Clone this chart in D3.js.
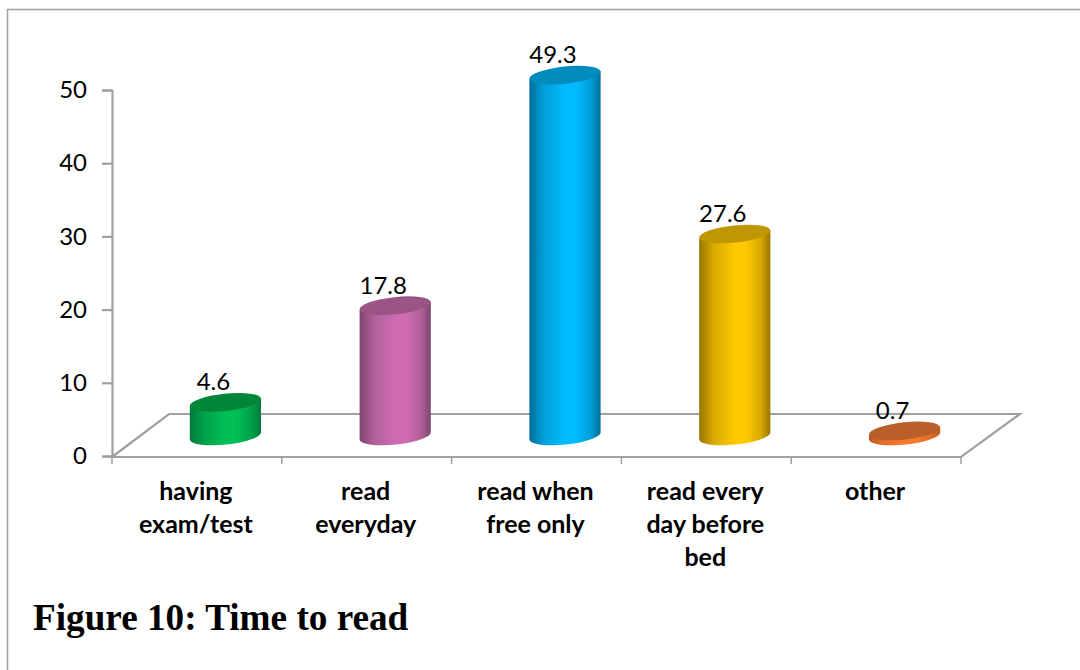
<!DOCTYPE html>
<html>
<head>
<meta charset="utf-8">
<script src="https://cdn.jsdelivr.net/npm/d3@7"></script>
<style>
  html, body { margin: 0; padding: 0; background: #fff; }
  svg { display: block; }
</style>
</head>
<body>
<svg id="chart" width="1080" height="670"></svg>
<script>
const categories = ["having exam/test", "read everyday", "read when free only", "read every day before bed", "other"];
const categoryLines = [["having", "exam/test"], ["read", "everyday"], ["read when", "free only"], ["read every", "day before", "bed"], ["other"]];
const values = [4.6, 17.8, 49.3, 27.6, 0.7];
const yTicks = [0, 10, 20, 30, 40, 50];
const titleText = "Figure 10: Time to read";

// Cylinder shades: [edge, shoulder, highlight, top cap]
const shades = [
  ["#007a3a", "#00a04c", "#00bf55", "#008539"],
  ["#80456f", "#b0609a", "#cf6bb1", "#9a5586"],
  ["#006e99", "#009fd9", "#00bbff", "#008cbd"],
  ["#967600", "#d9aa00", "#ffc800", "#bf9700"],
  ["#b85a20", "#e46c28", "#f8792d", "#b9602a"]
];

const svg = d3.select("#chart");
const axisColor = "#a0a0a0";
const labelFont = "Lato, 'Open Sans', sans-serif";

const x = d3.scaleBand().domain(categories).range([112, 961]);
const y = d3.scaleLinear().domain([0, 50]).range([456, 90]);

// Offset of the floor's back edge and of the cylinder axis, for the oblique view
const backDx = 57, backDy = -43;
const barDx = 28.5, barDy = -20;
const rx = 35.8, ry = 8.6, tilt = -6;
const endX = 35.6, endY = 3.8;

// Outer frame
svg.append("path")
  .attr("d", "M7.5,670V9.5H1080")
  .attr("fill", "none").attr("stroke", "#a0a0a0").attr("stroke-width", 1.5);

// Floor of the plot
const x0 = x.range()[0], x1 = x.range()[1], yBase = y(0) + 1;
svg.append("path")
  .attr("d", `M${x0},${yBase}L${x0 + backDx},${yBase + backDy}H${x1 + backDx + 2}L${x1},${yBase}Z`)
  .attr("fill", "none").attr("stroke", axisColor).attr("stroke-width", 2.2);

// Value axis
const yAxis = svg.append("g")
  .attr("transform", `translate(${x0},0)`)
  .call(d3.axisLeft(y).tickValues(yTicks).tickSize(10).tickPadding(15));
yAxis.selectAll("path, line").attr("stroke", axisColor).attr("stroke-width", 2.2);
yAxis.selectAll("text")
  .attr("fill", "#000").attr("font-family", labelFont).attr("font-size", 24);

// Category axis: ticks sit on the band edges
const edges = categories.map(c => x(c)).concat(x1);
svg.append("g").selectAll("line").data(edges).join("line")
  .attr("x1", d => d).attr("x2", d => d)
  .attr("y1", yBase).attr("y2", yBase + 7)
  .attr("stroke", axisColor).attr("stroke-width", 1.5);

// Category labels
svg.append("g").selectAll("text").data(categories).join("text")
  .attr("text-anchor", "middle")
  .attr("font-family", labelFont).attr("font-weight", 700).attr("font-size", 25)
  .attr("fill", "#000")
  .each(function (c, i) {
    d3.select(this).selectAll("tspan").data(categoryLines[i]).join("tspan")
      .attr("x", x(c) + x.bandwidth() / 2 - 1)
      .attr("y", (d, k) => 500 + k * 33)
      .text(d => d);
  });

// Horizontal shading of the cylinder walls
const defs = svg.append("defs");
shades.forEach((s, i) => {
  const g = defs.append("linearGradient").attr("id", `wall${i}`)
    .attr("x1", 0).attr("x2", 1).attr("y1", 0).attr("y2", 0);
  [[0, s[0]], [0.2, s[1]], [0.5, s[2]], [0.66, s[2]], [0.86, s[1]], [1, s[0]]]
    .forEach(([o, c]) => g.append("stop").attr("offset", o).attr("stop-color", c));
});

// Cylinders
const bars = svg.append("g").selectAll("g").data(categories).join("g");
bars.each(function (c, i) {
  const g = d3.select(this);
  const cx = x(c) + x.bandwidth() / 2 + barDx;
  const bottom = y(0) + barDy;
  const top = y(values[i]) + barDy;
  g.append("path")
    .attr("d", `M${cx - endX},${top + endY}L${cx - endX},${bottom + endY}` +
      `A${rx},${ry} ${tilt} 0 0 ${cx + endX},${bottom - endY}` +
      `L${cx + endX},${top - endY}Z`)
    .attr("fill", `url(#wall${i})`);
  g.append("ellipse")
    .attr("rx", rx).attr("ry", ry)
    .attr("transform", `translate(${cx},${top}) rotate(${tilt})`)
    .attr("fill", shades[i][3]);
});

// Value labels above each cylinder
svg.append("g").selectAll("text").data(categories).join("text")
  .attr("x", c => x(c) + x.bandwidth() / 2 + barDx - 12)
  .attr("y", (c, i) => y(values[i]) + barDy - 12)
  .attr("text-anchor", "middle")
  .attr("font-family", labelFont).attr("font-size", 24).attr("fill", "#000")
  .text((c, i) => values[i]);

// Caption
svg.append("text")
  .attr("x", 33).attr("y", 630)
  .attr("font-family", "'Liberation Serif', serif").attr("font-weight", 700)
  .attr("font-size", 37.2).attr("fill", "#000")
  .text(titleText);
</script>
</body>
</html>
